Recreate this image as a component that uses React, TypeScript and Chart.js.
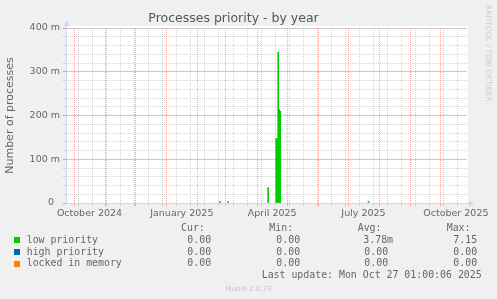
import React, { useEffect, useRef } from 'react';
import { Chart, registerables } from 'chart.js';

Chart.register(...registerables);

// ---------- data ----------
const TITLE = 'Processes priority - by year';
const Y_TITLE = 'Number of processes';
// x values are day offsets from 2024-10-01
const lowDays = [145, 153, 193, 201, 202, 203, 204, 205, 293];
const lowValues = [0.004, 0.004, 0.035, 0.147, 0.147, 0.345, 0.214, 0.21, 0.004];
const highDays: number[] = [];
const highValues: number[] = [];
const lockedDays: number[] = [];
const lockedValues: number[] = [];

const seriesNames = ['low priority', 'high priority', 'locked in memory'];
const seriesColors = ['#00CC00', '#0066B3', '#FF8000'];
const statHeaders = ['Cur:', 'Min:', 'Avg:', 'Max:'];
const curValues = ['0.00', '0.00', '0.00'];
const minValues = ['0.00', '0.00', '0.00'];
const avgValues = ['3.78m', '0.00', '0.00'];
const maxValues = ['7.15', '0.00', '0.00'];
const LAST_UPDATE = 'Last update: Mon Oct 27 01:00:06 2025';
const FOOTER = 'Munin 2.0.73';
const WATERMARK = 'RRDTOOL / TOBI OETIKER';

const xTickLabels = ['October 2024', 'January 2025', 'April 2025', 'July 2025', 'October 2025'];
const xTickDays = [15, 107, 197, 288, 380];
const yTickValues = [0, 0.1, 0.2, 0.3, 0.4];
const yTickLabels = ['0  ', '100 m', '200 m', '300 m', '400 m'];
const yMinorStep = 0.02;

// ---------- axis helpers ----------
const X_MIN = -8.4;
const X_MAX = 391.1;
const DAY = 86400000;
const base = Date.UTC(2024, 9, 1);
const monthDays: number[] = [];
for (let m = 0; m <= 12; m++) monthDays.push(Math.round((Date.UTC(2024, 9 + m, 1) - base) / DAY));
const weekDays: number[] = [];
for (let d = 4; d < X_MAX; d += 14) weekDays.push(d);

const GRID_GRAY = 'rgba(160,160,160,0.45)';
const GRID_RED = 'rgba(240,130,130,0.7)';
const AXIS = '#CFD6F8';
const FONT_COLOR = '#666666';
const NONE = 'rgba(0,0,0,0)';

const decorPlugin = {
  id: 'rrdDecor',
  beforeDraw(chart: any) {
    const { ctx, chartArea } = chart;
    ctx.save();
    ctx.fillStyle = '#F0F0F0';
    ctx.fillRect(0, 0, chart.width, chart.height);
    ctx.fillStyle = '#FFFFFF';
    ctx.fillRect(chartArea.left, chartArea.top - 2, chartArea.right - chartArea.left + 1, chartArea.bottom - chartArea.top + 2);
    ctx.restore();
  },
  afterDraw(chart: any) {
    const { ctx, chartArea } = chart;
    const x0 = Math.round(chartArea.left) + 0.5;
    const y0 = Math.round(chartArea.bottom) + 0.5;
    ctx.save();
    ctx.strokeStyle = AXIS;
    ctx.fillStyle = AXIS;
    ctx.lineWidth = 1;
    ctx.beginPath();
    ctx.moveTo(x0, chartArea.top);
    ctx.lineTo(x0, chartArea.top - 3);
    ctx.moveTo(chartArea.right, y0);
    ctx.lineTo(chartArea.right + 3, y0);
    ctx.stroke();
    ctx.beginPath();
    ctx.moveTo(x0, chartArea.top - 8);
    ctx.lineTo(x0 - 3, chartArea.top - 2);
    ctx.lineTo(x0 + 3, chartArea.top - 2);
    ctx.closePath();
    ctx.fill();
    ctx.beginPath();
    ctx.moveTo(chartArea.right + 7, y0);
    ctx.lineTo(chartArea.right + 2, y0 - 3);
    ctx.lineTo(chartArea.right + 2, y0 + 3);
    ctx.closePath();
    ctx.fill();
    ctx.restore();
  },
};

const MONO = '"DejaVu Sans Mono", monospace';
const SANS = '"DejaVu Sans", sans-serif';

function T(props: { x: number; base: number; size: number; family: string; color: string; text: string }) {
  const { x, base, size, family, color, text } = props;
  const lh = Math.ceil(size * 1.3);
  const top = base - ((lh - size * 1.164) / 2 + size * 0.928);
  return (
    <span
      style={{
        position: 'absolute',
        left: x,
        top,
        fontFamily: family,
        fontSize: size,
        lineHeight: lh + 'px',
        color,
        whiteSpace: 'pre',
      }}
    >
      {text}
    </span>
  );
}

function gridOnlyX(values: number[], color: string, z: number) {
  return {
    type: 'linear',
    position: 'bottom',
    min: X_MIN,
    max: X_MAX,
    offset: false,
    afterBuildTicks: (s: any) => {
      s.ticks = values.map((v) => ({ value: v }));
    },
    afterFit: (s: any) => {
      s.height = 0;
    },
    ticks: { display: false, autoSkip: false },
    grid: { offset: false, color, tickColor: color, lineWidth: 1, tickLength: 3, z },
    border: { display: false, dash: [1, 1] },
  };
}

export default function App() {
  const ref = useRef<HTMLCanvasElement>(null);

  useEffect(() => {
    const mk = (days: number[], vals: number[]) => days.map((d, i) => ({ x: d, y: vals[i] }));
    const dataArr = [mk(lowDays, lowValues), mk(highDays, highValues), mk(lockedDays, lockedValues)];
    const chart = new Chart(ref.current as HTMLCanvasElement, {
      type: 'bar',
      data: {
        datasets: seriesNames.map((name, i) => ({
          label: name,
          data: dataArr[i],
          backgroundColor: seriesColors[i],
          borderWidth: 0,
          barPercentage: 1,
          categoryPercentage: 1,
          grouped: false,
          xAxisID: 'x',
          yAxisID: 'y',
        })),
      },
      options: {
        animation: false,
        responsive: false,
        devicePixelRatio: 1,
        layout: { padding: { left: 0, right: 30, top: 0, bottom: 76 } },
        plugins: {
          legend: { display: false },
          tooltip: { enabled: false },
          title: {
            display: true,
            text: TITLE,
            color: '#555555',
            font: { family: 'DejaVu Sans', size: 12.5, weight: 'normal' },
            padding: { top: 11, bottom: 2 },
          },
        },
        scales: {
          xWeek: gridOnlyX(weekDays, GRID_GRAY, -3),
          xMonth: gridOnlyX(monthDays, GRID_RED, -2),
          x: {
            type: 'linear',
            position: 'bottom',
            min: X_MIN,
            max: X_MAX,
            offset: false,
            afterBuildTicks: (s: any) => {
              s.ticks = xTickDays.map((v) => ({ value: v }));
            },
            afterFit: (s: any) => {
              s.height = 20;
            },
            ticks: {
              autoSkip: false,
              maxRotation: 0,
              minRotation: 0,
              padding: 2,
              color: FONT_COLOR,
              font: { family: 'DejaVu Sans', size: 9.5 },
              callback: (_v: any, i: number) => xTickLabels[i],
            },
            grid: { offset: false, drawOnChartArea: false, tickLength: 3, color: NONE, tickColor: NONE },
            border: { display: true, color: AXIS },
          },
          yMinor: {
            position: 'left',
            min: 0,
            max: yTickValues[yTickValues.length - 1],
            afterFit: (s: any) => {
              s.width = 0;
            },
            ticks: { display: false, stepSize: yMinorStep, autoSkip: false },
            grid: { color: GRID_GRAY, tickColor: GRID_GRAY, lineWidth: 1, tickLength: 3, z: -3 },
            border: { display: false, dash: [1, 1] },
          },
          y: {
            position: 'left',
            min: 0,
            max: yTickValues[yTickValues.length - 1],
            afterBuildTicks: (s: any) => {
              s.ticks = yTickValues.map((v) => ({ value: v }));
            },
            afterFit: (s: any) => {
              s.width = 66;
            },
            ticks: {
              autoSkip: false,
              padding: 3,
              color: FONT_COLOR,
              font: { family: 'DejaVu Sans', size: 9.5 },
              callback: (_v: any, i: number) => yTickLabels[i],
            },
            grid: { color: GRID_RED, tickColor: GRID_RED, lineWidth: 1, tickLength: 3, z: -2 },
            border: { display: true, color: AXIS, dash: [1, 1] },
            title: {
              display: true,
              text: Y_TITLE,
              color: FONT_COLOR,
              font: { family: 'DejaVu Sans', size: 11 },
              padding: { top: 4, bottom: 0 },
            },
          },
        },
      } as any,
      plugins: [decorPlugin],
    });
    return () => chart.destroy();
  }, []);

  const colX = [181, 269.3, 357.7, 446.7];
  const valX = [
    curValues.map(() => 187.3),
    minValues.map(() => 276.3),
    avgValues.map((v) => (v.endsWith('m') ? 363.3 : 364.3)),
    maxValues.map(() => 453.3),
  ];
  const statCols = [curValues, minValues, avgValues, maxValues];
  const rowBase = [242.5, 254.5, 266.2];
  const FS = 9.9;

  return (
    <div
      style={{
        position: 'fixed',
        left: 0,
        top: 0,
        width: 497,
        height: 299,
        background: '#F0F0F0',
        overflow: 'hidden',
      }}
    >
      <canvas ref={ref} width={497} height={299} style={{ display: 'block', width: 497, height: 299 }} />
      {statHeaders.map((h, i) => (
        <T key={h} x={colX[i]} base={231} size={FS} family={MONO} color={FONT_COLOR} text={h} />
      ))}
      {seriesNames.map((n, r) => (
        <React.Fragment key={n}>
          <div
            style={{
              position: 'absolute',
              left: 14,
              top: rowBase[r] - 5.5,
              width: 6,
              height: 6,
              background: seriesColors[r],
            }}
          />
          <T x={26.7} base={rowBase[r]} size={FS} family={MONO} color={FONT_COLOR} text={n} />
          {statCols.map((col, c) => (
            <T key={c} x={valX[c][r]} base={rowBase[r]} size={FS} family={MONO} color={FONT_COLOR} text={col[r]} />
          ))}
        </React.Fragment>
      ))}
      <T x={261.7} base={278} size={FS} family={MONO} color={FONT_COLOR} text={LAST_UPDATE} />
      <div
        style={{
          position: 'absolute',
          left: 0,
          width: 497,
          top: 285,
          textAlign: 'center',
          fontFamily: SANS,
          fontSize: 7,
          lineHeight: '9px',
          color: '#C4C4C4',
        }}
      >
        {FOOTER}
      </div>
      <div
        style={{
          position: 'absolute',
          left: 483,
          top: 5,
          writingMode: 'vertical-rl',
          fontFamily: SANS,
          fontSize: 7.5,
          lineHeight: '10px',
          color: '#CCCCCC',
          whiteSpace: 'nowrap',
        }}
      >
        {WATERMARK}
      </div>
    </div>
  );
}
